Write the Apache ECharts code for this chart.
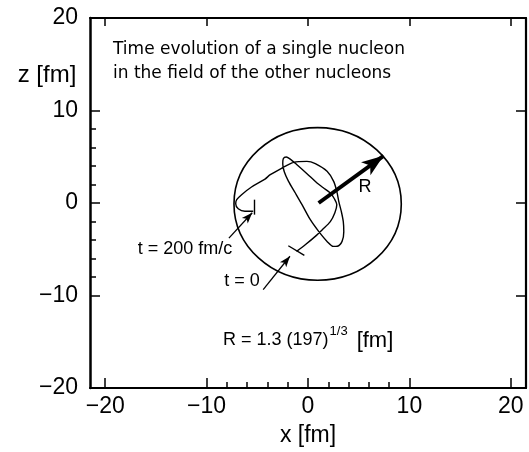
<!DOCTYPE html>
<html>
<head>
<meta charset="utf-8">
<script src="https://cdn.jsdelivr.net/npm/echarts@6/dist/echarts.min.js"></script>
<style>
  html, body { margin: 0; padding: 0; background: #fff; }
  #chart { width: 529px; height: 452px; }
</style>
</head>
<body>
<div id="chart"></div>
<script>
// axis ticks
const xTicks = [-20, -10, 0, 10, 20];
const xMinorTicks = [-8, -6, -4, -2, 2, 4, 6, 8];
const zTicks = [-20, -10, 0, 10, 20];
const zMinorTicks = [-8, -6, -4, -2, 2, 4, 6, 8];
const zRightTicks = [-10, 0, 10];

// nucleon path [x, z] in fm, t = 0 ... 200 fm/c
const trajectory = [
  [-1.13, -5.23], [-0.27, -4.51], [0.72, -3.61], [1.41, -2.89], [2.20, -2.02],
  [2.65, -1.05], [2.84, -0.18], [2.60, 0.46], [2.20, 1.08], [1.51, 1.65],
  [0.89, 2.16], [-0.10, 3.17], [-1.09, 4.14], [-1.75, 4.74], [-2.14, 4.97],
  [-2.44, 4.79], [-2.49, 4.25], [-2.34, 3.38], [-1.92, 2.34], [-1.25, 1.08],
  [-0.59, -0.18], [0.23, -1.81], [1.05, -3.07], [1.88, -4.15], [2.50, -4.69],
  [2.89, -4.67], [3.36, -4.15], [3.53, -3.10], [3.48, -2.02], [3.29, -0.94],
  [3.04, 0.14], [2.84, 1.25], [2.53, 2.34], [1.88, 3.42], [0.72, 4.25],
  [-0.10, 4.50], [-1.42, 4.39], [-2.57, 3.78], [-3.72, 3.06], [-4.24, 2.59],
  [-5.57, 1.73], [-6.55, 0.90], [-7.03, 0.36], [-7.13, -0.08], [-6.88, -0.62],
  [-6.22, -0.89], [-5.40, -0.89]
];

// nucleus: centre x, centre z, radius R
const nucleus = [0.95, -0.1, 8.25];

const radiusArrow = [[1.05, 0.0], [7.45, 5.1]];
const startArrow = [[-4.42, -9.37], [-1.78, -5.76]];
const endArrow = [[-7.8, -3.8], [-5.5, -1.05]];
const startMark = [[-1.94, -4.62], [-0.36, -5.67]];
const endMark = [[-5.3, 0.36], [-5.3, -1.26]];

const minus = v => String(v).replace('-', '\u2212');
const tickFont = { fontFamily: 'Liberation Sans', fontSize: 23, color: '#000' };

const baseX = { type: 'value', min: -21.5, max: 21.5, gridIndex: 0, splitLine: { show: false } };
const baseY = { type: 'value', min: -20, max: 20, gridIndex: 0, splitLine: { show: false } };

function seg(pts, width, arrow, size) {
  return [
    { coord: pts[0], symbol: 'none', lineStyle: { color: '#000', width: width, type: 'solid' } },
    { coord: pts[1], symbol: arrow ? 'arrow' : 'none', symbolSize: size || 10 }
  ];
}

const chart = echarts.init(document.getElementById('chart'), null, { renderer: 'canvas' });
chart.setOption({
  animation: false,
  backgroundColor: '#fff',
  grid: { left: 90, right: 3, top: 18, bottom: 64, containLabel: false },
  xAxis: [
    Object.assign({}, baseX, {
      position: 'bottom',
      name: 'x [fm]', nameLocation: 'middle', nameGap: 36,
      nameTextStyle: { fontFamily: 'Liberation Sans', fontSize: 23, color: '#000' },
      axisLine: { show: true, onZero: false, lineStyle: { color: '#000', width: 2.2 } },
      axisTick: { show: true, inside: true, length: 10, customValues: xTicks, lineStyle: { color: '#000', width: 1.5 } },
      axisLabel: Object.assign({ show: true, margin: 7, customValues: xTicks, formatter: minus }, tickFont)
    }),
    Object.assign({}, baseX, {
      position: 'bottom',
      axisLine: { show: false, onZero: false },
      axisTick: { show: true, inside: true, length: 6, customValues: xMinorTicks, lineStyle: { color: '#000', width: 1.5 } },
      axisLabel: { show: false }
    }),
    Object.assign({}, baseX, {
      position: 'top',
      axisLine: { show: true, onZero: false, lineStyle: { color: '#000', width: 2 } },
      axisTick: { show: true, inside: true, length: 8, customValues: xTicks, lineStyle: { color: '#000', width: 1.5 } },
      axisLabel: { show: false }
    })
  ],
  yAxis: [
    Object.assign({}, baseY, {
      position: 'left', interval: 10,
      axisLine: { show: true, onZero: false, lineStyle: { color: '#000', width: 2.5 } },
      axisTick: { show: true, inside: true, length: 10, customValues: zTicks, lineStyle: { color: '#000', width: 1.5 } },
      axisLabel: Object.assign({ show: true, margin: 12, customValues: zTicks, formatter: minus }, tickFont)
    }),
    Object.assign({}, baseY, {
      position: 'left',
      axisLine: { show: false, onZero: false },
      axisTick: { show: true, inside: true, length: 6, customValues: zMinorTicks, lineStyle: { color: '#000', width: 1.5 } },
      axisLabel: { show: false }
    }),
    Object.assign({}, baseY, {
      position: 'right',
      axisLine: { show: true, onZero: false, lineStyle: { color: '#000', width: 2.2 } },
      axisTick: { show: true, inside: true, length: 10, customValues: zRightTicks, lineStyle: { color: '#000', width: 1.5 } },
      axisLabel: { show: false }
    })
  ],
  series: [
    {
      type: 'custom',
      xAxisIndex: 0, yAxisIndex: 0,
      data: [nucleus],
      silent: true,
      renderItem: (params, api) => {
        const c = api.coord([api.value(0), api.value(1)]);
        const s = api.size([api.value(2), api.value(2)]);
        return {
          type: 'ellipse',
          shape: { cx: c[0], cy: c[1], rx: s[0], ry: s[1] },
          style: { fill: 'none', stroke: '#000', lineWidth: 1.6 }
        };
      }
    },
    {
      type: 'line',
      xAxisIndex: 0, yAxisIndex: 0,
      data: trajectory,
      smooth: 0.3,
      showSymbol: false,
      lineStyle: { color: '#000', width: 1.4 },
      markLine: {
        silent: true,
        symbol: 'none',
        label: { show: false },
        data: [
          seg(radiusArrow, 4, true, [12, 22]),
          seg(startArrow, 1.3, true, [6, 11]),
          seg(endArrow, 1.3, true, [6, 11]),
          seg(startMark, 1.4, false),
          seg(endMark, 1.4, false)
        ]
      }
    }
  ],
  graphic: [
    { type: 'text', x: 113, y: 50, style: { text: 'Time evolution of a single nucleon', font: '17px "DejaVu Sans"', fill: '#000', verticalAlign: 'middle' } },
    { type: 'text', x: 113, y: 73.5, style: { text: 'in the field of the other nucleons', font: '17px "DejaVu Sans"', fill: '#000', verticalAlign: 'middle' } },
    { type: 'text', x: 47, y: 75, style: { text: 'z [fm]', font: '24px "Liberation Sans"', fill: '#000', align: 'center', verticalAlign: 'middle' } },
    { type: 'text', x: 185, y: 249, style: { text: 't = 200 fm/c', font: '18px "Liberation Sans"', fill: '#000', align: 'center', verticalAlign: 'middle' } },
    { type: 'text', x: 242, y: 281, style: { text: 't = 0', font: '18px "Liberation Sans"', fill: '#000', align: 'center', verticalAlign: 'middle' } },
    { type: 'text', x: 365, y: 187.5, style: { text: 'R', font: '18px "Liberation Sans"', fill: '#000', align: 'center', verticalAlign: 'middle' } },
    {
      type: 'text', x: 223, y: 340.5,
      style: {
        text: '{a|R = 1.3 (197)}{s|1/3}{b|[fm]}',
        verticalAlign: 'middle',
        rich: {
          a: { fontFamily: 'Liberation Sans', fontSize: 18, lineHeight: 32, fill: '#000', color: '#000' },
          s: { fontFamily: 'Liberation Sans', fontSize: 13, verticalAlign: 'top', fill: '#000', color: '#000', padding: [0, 0, 0, 1] },
          b: { fontFamily: 'Liberation Sans', fontSize: 22, fill: '#000', color: '#000', padding: [0, 0, 0, 9] }
        }
      }
    }
  ]
});
</script>
</body>
</html>
